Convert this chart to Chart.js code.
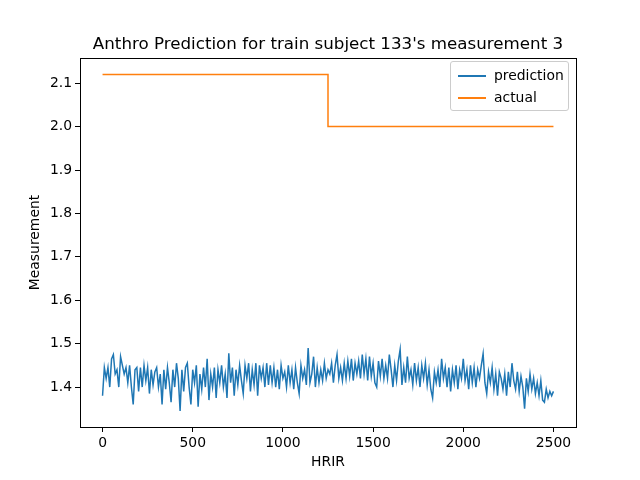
<!DOCTYPE html>
<html>
<head>
<meta charset="utf-8">
<script src="https://cdn.jsdelivr.net/npm/chart.js@4"></script>
<style>
  html, body { margin: 0; padding: 0; background: #fff; }
  #wrap { position: relative; width: 640px; height: 480px; }
  #title {
    position: absolute; left: 28px; width: 600px; top: 33px; height: 20px; line-height: 20px;
    text-align: center; white-space: nowrap;
    font-family: "DejaVu Sans", sans-serif; font-size: 16.7px; color: #000;
  }
  #legend {
    position: absolute; left: 450px; top: 61px; width: 117px; height: 48px;
    border: 1px solid #cccccc; border-radius: 3px; background: rgba(255,255,255,0.8);
    font-family: "DejaVu Sans", sans-serif; font-size: 13.9px; color: #000;
  }
  .item { position: absolute; left: 7px; height: 20px; }
  .item .swatch { position: absolute; left: 0; top: 9px; width: 28px; height: 1.5px; }
  .item .lbl { position: absolute; left: 36px; top: 1px; white-space: nowrap; line-height: 16px; }
</style>
</head>
<body>
<div id="wrap">
  <canvas id="c" width="640" height="480"></canvas>
  <div id="title"></div>
  <div id="legend"></div>
</div>
<script>
const chartTitle = "Anthro Prediction for train subject 133's measurement 3";
const xTitle = "HRIR";
const yTitle = "Measurement";
const seriesNames = ["prediction", "actual"];
const xTickValues = [0, 500, 1000, 1500, 2000, 2500];
const yTickValues = [1.4, 1.5, 1.6, 1.7, 1.8, 1.9, 2.0, 2.1];
const hrirStep = 10;
const predictionValues = [
  1.38,1.445,1.42,1.445,1.40,1.465,1.475,1.43,1.44,1.40,1.47,1.45,1.43,1.445,1.41,1.45,1.40,1.36,1.44,1.445,1.39,1.445,1.40,1.45,1.415,1.445,1.385,1.44,1.405,1.435,
  1.445,1.40,1.43,1.36,1.44,1.395,1.445,1.41,1.365,1.44,1.40,1.455,1.42,1.345,1.44,1.39,1.445,1.455,1.40,1.36,1.44,1.41,1.45,1.355,1.43,1.395,1.445,1.40,1.465,1.37,1.43,1.40,
  1.445,1.375,1.44,1.41,1.45,1.40,1.43,1.375,1.478,1.41,1.445,1.38,1.44,1.405,1.45,1.415,1.385,1.45,1.42,1.455,1.39,1.44,1.405,1.455,1.38,1.45,1.42,1.445,1.40,1.455,1.405,1.45,
  1.41,1.445,1.40,1.44,1.395,1.45,1.42,1.435,1.40,1.45,1.41,1.44,1.395,1.445,1.41,1.385,1.45,1.42,1.44,1.405,1.49,1.41,1.43,1.47,1.40,1.445,1.41,1.44,1.415,1.455,1.42,1.44,
  1.43,1.455,1.41,1.45,1.475,1.42,1.445,1.415,1.455,1.42,1.46,1.425,1.465,1.415,1.455,1.43,1.46,1.42,1.475,1.43,1.465,1.415,1.47,1.425,1.455,1.41,1.40,1.46,1.425,1.465,1.42,1.45,
  1.42,1.475,1.44,1.40,1.45,1.415,1.46,1.487,1.405,1.445,1.41,1.47,1.42,1.44,1.405,1.455,1.415,1.445,1.40,1.45,1.42,1.455,1.405,1.44,1.395,1.375,1.435,1.41,1.44,1.40,1.465,1.42,1.445,
  1.40,1.445,1.39,1.44,1.41,1.45,1.395,1.44,1.42,1.465,1.415,1.44,1.395,1.45,1.41,1.445,1.40,1.44,1.42,1.45,1.477,1.41,1.385,1.435,1.41,1.445,1.395,1.43,1.38,1.435,
  1.42,1.395,1.43,1.38,1.435,1.40,1.455,1.415,1.395,1.435,1.39,1.425,1.40,1.35,1.42,1.39,1.43,1.395,1.42,1.385,1.41,1.38,1.415,1.37,1.365,1.395,1.375,1.39,1.38,1.39
];
const actualX = [0, 1250, 1250, 2500];
const actualY = [2.12, 2.12, 2.0, 2.0];
const colors = ["#1f77b4", "#ff7f0e"];

const predData = predictionValues.map((v, i) => ({ x: i * hrirStep, y: v }));
const actData = actualX.map((x, i) => ({ x: x, y: actualY[i] }));

const FONT = "DejaVu Sans";

const framePlugin = {
  id: 'frame',
  afterDraw(chart) {
    const a = chart.chartArea, ctx = chart.ctx;
    ctx.save();
    ctx.strokeStyle = '#000';
    ctx.lineWidth = 1;
    ctx.strokeRect(Math.round(a.left) + 0.5, Math.round(a.top) + 0.5,
                   Math.round(a.right - a.left), Math.round(a.bottom - a.top));
    ctx.restore();
  }
};

const chart = new Chart(document.getElementById('c'), {
  type: 'line',
  data: {
    datasets: [
      { label: seriesNames[0], data: predData, borderColor: colors[0], backgroundColor: colors[0],
        borderWidth: 1.5, pointRadius: 0, tension: 0, fill: false },
      { label: seriesNames[1], data: actData, borderColor: colors[1], backgroundColor: colors[1],
        borderWidth: 1.5, pointRadius: 0, tension: 0, fill: false }
    ]
  },
  options: {
    responsive: false,
    animation: false,
    devicePixelRatio: 1,
    layout: { padding: { left: 0, right: 64, top: 58, bottom: 0 } },
    plugins: {
      legend: { display: false },
      tooltip: { enabled: false },
      title: { display: false }
    },
    scales: {
      x: {
        type: 'linear', min: -125, max: 2625,
        afterFit(s) { s.height = 53; },
        afterBuildTicks(s) { s.ticks = xTickValues.map(v => ({ value: v })); },
        grid: { drawOnChartArea: false, drawTicks: true, tickLength: 5, tickColor: '#000' },
        border: { display: true, color: '#000', width: 1 },
        ticks: { color: '#000', font: { family: FONT, size: 13.9 }, padding: 3, maxRotation: 0,
                 callback: v => String(v) },
        title: { display: true, text: xTitle, color: '#000', font: { family: FONT, size: 13.9 },
                 padding: { top: 0, bottom: 9 } }
      },
      y: {
        type: 'linear', min: 1.308, max: 2.158,
        afterFit(s) { s.width = 80; },
        afterBuildTicks(s) { s.ticks = yTickValues.map(v => ({ value: v })); },
        grid: { drawOnChartArea: false, drawTicks: true, tickLength: 5, tickColor: '#000' },
        border: { display: true, color: '#000', width: 1 },
        ticks: { color: '#000', font: { family: FONT, size: 13.9 }, padding: 3,
                 callback: v => Number(v).toFixed(1) },
        title: { display: true, text: yTitle, color: '#000', font: { family: FONT, size: 13.9 },
                 padding: { top: 27, bottom: 27 } }
      }
    }
  },
  plugins: [framePlugin]
});

document.getElementById('title').textContent = chartTitle;

// HTML legend built from datasets
const leg = document.getElementById('legend');
chart.data.datasets.forEach((ds, i) => {
  const it = document.createElement('div');
  it.className = 'item';
  it.style.top = (4 + i * 22) + 'px';
  const sw = document.createElement('div');
  sw.className = 'swatch';
  sw.style.background = ds.borderColor;
  const lb = document.createElement('div');
  lb.className = 'lbl';
  lb.textContent = ds.label;
  it.appendChild(sw); it.appendChild(lb);
  leg.appendChild(it);
});
</script>
</body>
</html>
